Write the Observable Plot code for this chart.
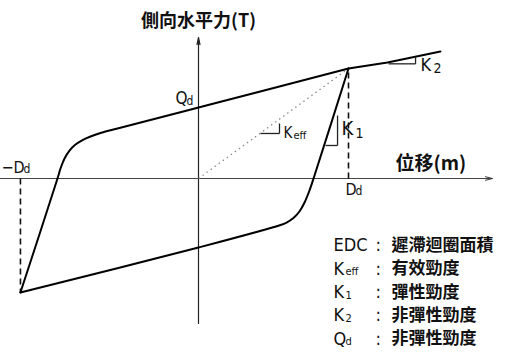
<!DOCTYPE html>
<html><head><meta charset="utf-8">
<script src="https://cdn.jsdelivr.net/npm/d3@7"></script>
<script src="https://cdn.jsdelivr.net/npm/@observablehq/plot@0.6"></script>
<style>body{margin:0;background:#fff}#chart svg{display:block}</style>
</head><body><div id="chart"></div>
<script>
// ---- data (displacement in units of Dd, force in units of Qd) ----
const Dd = 1;
const negDd = -1.187;
const Qd = 1;
const peakForce = 1.549;
const minForce = -1.606;

// loading branch: from the lower-left corner up through Qd to the peak
const upperX = [-1.187, -0.94, -0.92, -0.893, -0.86, -0.82, -0.773, -0.72, -0.653, -0.54, 0, 1];
const upperY = [-1.606, 0, 0.141, 0.282, 0.394, 0.479, 0.542, 0.592, 0.641, 0.704, 1.0, 1.549];
// post-yield continuation (K2) beyond the peak
const hardenX = [1, 1.26, 1.613];
const hardenY = [1.549, 1.634, 1.789];
// unloading branch: from the peak down (K1) and back along the lower line
const lowerX = [1, 0.767, 0.74, 0.707, 0.673, 0.633, 0.587, 0.547, 0, -1.187];
const lowerY = [1.549, 0, -0.169, -0.338, -0.465, -0.556, -0.62, -0.655, -0.972, -1.606];

const xAxisExtent = [-1.32, 1.96];
const yAxisExtent = [-2.042, 1.986];

const legendKeys = ["EDC", "K", "K", "K", "Q"];
const legendSubs = ["", "eff", "1", "2", "d"];
const legendDesc = ["遲滯迴圈面積", "有效勁度", "彈性勁度", "非彈性勁度", "非彈性勁度"];
const legendRowY = [-0.944, -1.273, -1.601, -1.93, -2.258];

const yTitle = "側向水平力(T)";
const xTitle = "位移(m)";

// ---- build tables ----
const pts = (xs, ys) => xs.map((x, i) => ({x, y: ys[i]}));
const upper = pts(upperX, upperY);
const harden = pts(hardenX, hardenY);
const lower = pts(lowerX, lowerY);

const latin = "'Liberation Sans Narrow','DejaVu Sans Condensed','Liberation Sans',sans-serif";
const cjk = "'Noto Sans CJK TC','Noto Sans CJK SC',sans-serif";

const legendRows = legendKeys.map((k, i) => ({k, s: legendSubs[i], d: legendDesc[i], y: legendRowY[i]}));

const chart = Plot.plot({
  width: 505, height: 356,
  margin: 0,
  style: {background: "#fff"},
  x: {domain: [-1.32, 2.0467], axis: null},
  y: {domain: [-2.507, 2.507], axis: null},
  marks: [
    // axes
    Plot.arrow([{x1: xAxisExtent[0], y1: 0, x2: xAxisExtent[1], y2: 0}],
      {x1: "x1", y1: "y1", x2: "x2", y2: "y2", stroke: "#444", strokeWidth: 1.2, headLength: 9, headAngle: 28}),
    Plot.arrow([{x1: 0, y1: yAxisExtent[0], x2: 0, y2: yAxisExtent[1]}],
      {x1: "x1", y1: "y1", x2: "x2", y2: "y2", stroke: "#222", strokeWidth: 1.2, headLength: 9, headAngle: 24}),
    // dashed displacement markers
    Plot.link([{x1: negDd, y1: 0, x2: negDd, y2: minForce}, {x1: Dd, y1: 0, x2: Dd, y2: peakForce}],
      {x1: "x1", y1: "y1", x2: "x2", y2: "y2", stroke: "#111", strokeWidth: 1.6, strokeDasharray: "6,4"}),
    // effective stiffness secant
    Plot.link([{x1: 0, y1: 0, x2: Dd, y2: peakForce}],
      {x1: "x1", y1: "y1", x2: "x2", y2: "y2", stroke: "#8a8a8a", strokeWidth: 1.3, strokeDasharray: "1.5,3.5"}),
    // hysteresis loop
    Plot.line(upper, {x: "x", y: "y", curve: "catmull-rom", stroke: "#000", strokeWidth: 2}),
    Plot.line(lower, {x: "x", y: "y", curve: "catmull-rom", stroke: "#000", strokeWidth: 2}),
    Plot.line(harden, {x: "x", y: "y", stroke: "#000", strokeWidth: 2}),
    // slope triangles
    Plot.link([
      {x1: 0.413, y1: 0.634, x2: 0.54, y2: 0.634}, {x1: 0.54, y1: 0.634, x2: 0.54, y2: 0.775},
      {x1: 0.847, y1: 0.465, x2: 0.927, y2: 0.465}, {x1: 0.927, y1: 0.465, x2: 0.927, y2: 0.887},
      {x1: 1.267, y1: 1.615, x2: 1.447, y2: 1.615}, {x1: 1.447, y1: 1.615, x2: 1.447, y2: 1.708}
    ], {x1: "x1", y1: "y1", x2: "x2", y2: "y2", stroke: "#222", strokeWidth: 1.3}),
    // axis titles
    Plot.text([yTitle], {x: 0, y: 2.211, text: d => d, fontSize: 18, fontWeight: "bold", fontFamily: cjk, fill: "#111"}),
    Plot.text([xTitle], {x: 1.313, y: 0.211, text: d => d, fontSize: 19, fontWeight: "bold", fontFamily: cjk, textAnchor: "start", fill: "#111"}),
    // annotation labels (main letter + subscript)
    Plot.text([{x: -0.153, y: 1.127, t: "Q", f: 17}, {x: -1.313, y: 0.155, t: "−D", f: 16}, {x: 0.98, y: -0.155, t: "D", f: 16},
               {x: 0.567, y: 0.634, t: "K", f: 15}, {x: 0.953, y: 0.704, t: "K", f: 20}, {x: 1.48, y: 1.592, t: "K", f: 18}],
      {x: "x", y: "y", text: "t", fontSize: "f", fontFamily: latin, textAnchor: "start", fill: "#111"}),
    Plot.text([{x: -0.08, y: 1.085, t: "d", f: 12}, {x: -1.167, y: 0.127, t: "d", f: 12}, {x: 1.047, y: -0.183, t: "d", f: 12},
               {x: 0.633, y: 0.606, t: "eff", f: 11}, {x: 1.047, y: 0.634, t: "1", f: 14}, {x: 1.567, y: 1.549, t: "2", f: 14}],
      {x: "x", y: "y", text: "t", fontSize: "f", fontFamily: latin, textAnchor: "start", fill: "#111"}),
    // legend
    Plot.text(legendRows, {x: 0.9, y: "y", text: "k", fontSize: 18, fontFamily: latin, textAnchor: "start", fill: "#111"}),
    Plot.text(legendRows, {x: 0.9, y: "y", text: "s", dx: 12, dy: 3, fontSize: 11, fontFamily: latin, textAnchor: "start", fill: "#111"}),
    Plot.text(legendRows, {x: 1.18, y: "y", text: () => ":", fontSize: 18, fontFamily: latin, textAnchor: "start", fill: "#111"}),
    Plot.text(legendRows, {x: 1.287, y: "y", text: "d", fontSize: 17, fontWeight: "bold", fontFamily: cjk, textAnchor: "start", fill: "#111"})
  ]
});
document.getElementById("chart").appendChild(chart);
</script>
</body></html>
